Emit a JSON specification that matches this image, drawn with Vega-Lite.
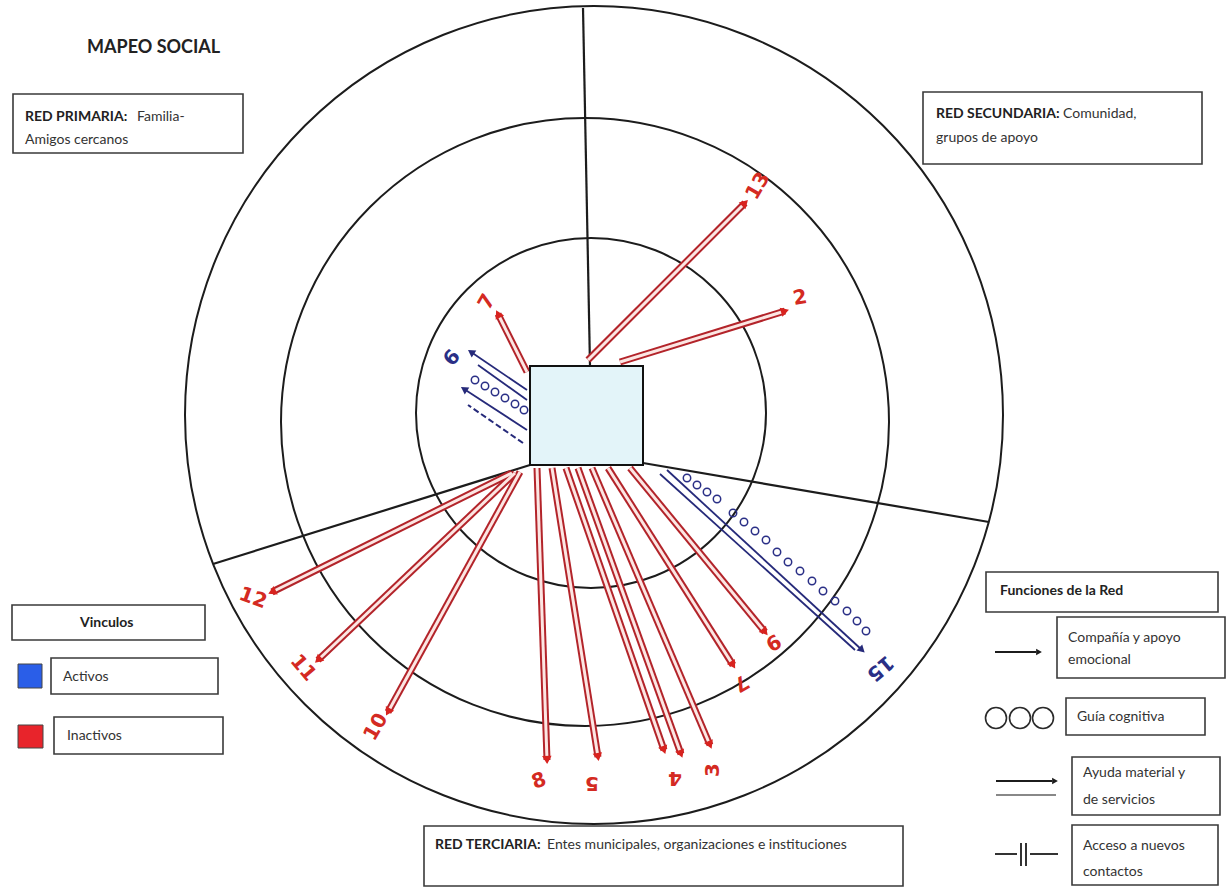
{
  "$schema": "https://vega.github.io/schema/vega-lite/v6.json",
  "width": 1226,
  "height": 888,
  "padding": 0,
  "autosize": {"type": "none"},
  "background": "white",
  "config": {"view": {"stroke": null}},
  "resolve": {"scale": {"color": "independent"}},
  "datasets": {
    "rings": [
      {"x": 594, "y": 415, "d": 818},
      {"x": 585, "y": 422, "d": 608},
      {"x": 591, "y": 413, "d": 350}
    ],
    "sectors": [
      {"x": 583, "y": 8, "x2": 590, "y2": 366},
      {"x": 530, "y": 465, "x2": 213, "y2": 564},
      {"x": 643, "y": 463, "x2": 989, "y2": 522}
    ],
    "redArrows": [
      {"id": "13", "x": 588, "y": 360, "x2": 745, "y2": 203, "ang": 45},
      {"id": "2", "x": 620, "y": 362, "x2": 785, "y2": 311, "ang": 73},
      {"id": "7a", "x": 527, "y": 372, "x2": 498, "y2": 314, "ang": -27},
      {"id": "12", "x": 512, "y": 473, "x2": 272, "y2": 592, "ang": -116},
      {"id": "11", "x": 515, "y": 473, "x2": 318, "y2": 660, "ang": -133},
      {"id": "10", "x": 520, "y": 472, "x2": 388, "y2": 712, "ang": -151},
      {"id": "8", "x": 537, "y": 468, "x2": 547, "y2": 760, "ang": 178},
      {"id": "5", "x": 552, "y": 468, "x2": 598, "y2": 757, "ang": 171},
      {"id": "4a", "x": 566, "y": 468, "x2": 664, "y2": 750, "ang": 161},
      {"id": "4", "x": 578, "y": 468, "x2": 681, "y2": 754, "ang": 160},
      {"id": "3", "x": 592, "y": 468, "x2": 710, "y2": 745, "ang": 157},
      {"id": "7b", "x": 608, "y": 468, "x2": 733, "y2": 665, "ang": 148},
      {"id": "9", "x": 630, "y": 468, "x2": 765, "y2": 632, "ang": 140}
    ],
    "blueLines": [
      {"x": 667, "y": 470, "x2": 862, "y2": 650, "ang": 133, "head": true},
      {"x": 660, "y": 474, "x2": 855, "y2": 650, "ang": 133, "head": false},
      {"x": 527, "y": 390, "x2": 471, "y2": 352, "ang": -56, "head": true},
      {"x": 527, "y": 400, "x2": 478, "y2": 365, "ang": -56, "head": false},
      {"x": 527, "y": 430, "x2": 464, "y2": 389, "ang": -57, "head": true}
    ],
    "blueDashed": [
      {"x": 523, "y": 443, "x2": 468, "y2": 405}
    ],
    "blueCircles": [
      {"x": 687, "y": 478}, {"x": 697, "y": 485}, {"x": 707, "y": 492}, {"x": 717, "y": 499},
      {"x": 733, "y": 513}, {"x": 744, "y": 522}, {"x": 755, "y": 531}, {"x": 766, "y": 540},
      {"x": 777, "y": 552}, {"x": 788, "y": 562}, {"x": 800, "y": 571}, {"x": 812, "y": 581},
      {"x": 823, "y": 591}, {"x": 835, "y": 601}, {"x": 847, "y": 611}, {"x": 857, "y": 621},
      {"x": 866, "y": 631},
      {"x": 475, "y": 380}, {"x": 485, "y": 386}, {"x": 495, "y": 392}, {"x": 505, "y": 398},
      {"x": 515, "y": 404}, {"x": 524, "y": 410}
    ],
    "labels": [
      {"t": "13", "x": 758, "y": 186, "ang": -60, "c": "r"},
      {"t": "2", "x": 800, "y": 298, "ang": -10, "c": "r"},
      {"t": "7", "x": 487, "y": 302, "ang": -60, "c": "r"},
      {"t": "6", "x": 452, "y": 358, "ang": -50, "c": "b"},
      {"t": "12", "x": 253, "y": 598, "ang": 20, "c": "r"},
      {"t": "11", "x": 303, "y": 668, "ang": 50, "c": "r"},
      {"t": "10", "x": 376, "y": 727, "ang": -60, "c": "r"},
      {"t": "8", "x": 539, "y": 781, "ang": -20, "c": "r"},
      {"t": "5", "x": 592, "y": 783, "ang": 180, "c": "r"},
      {"t": "4", "x": 675, "y": 778, "ang": 180, "c": "r"},
      {"t": "3", "x": 713, "y": 770, "ang": -90, "c": "r"},
      {"t": "7", "x": 741, "y": 683, "ang": 150, "c": "r"},
      {"t": "9", "x": 773, "y": 642, "ang": 150, "c": "r"},
      {"t": "15", "x": 880, "y": 668, "ang": 140, "c": "b"}
    ],
    "centerBox": [
      {"x": 530, "y": 366, "x2": 643, "y2": 465}
    ],
    "boxes": [
      {"x": 13, "y": 94, "x2": 243, "y2": 153},
      {"x": 923, "y": 92, "x2": 1202, "y2": 164},
      {"x": 12, "y": 605, "x2": 205, "y2": 640},
      {"x": 51, "y": 658, "x2": 218, "y2": 694},
      {"x": 54, "y": 717, "x2": 223, "y2": 754},
      {"x": 986, "y": 572, "x2": 1218, "y2": 612},
      {"x": 1057, "y": 617, "x2": 1225, "y2": 678},
      {"x": 1066, "y": 698, "x2": 1205, "y2": 735},
      {"x": 1072, "y": 757, "x2": 1220, "y2": 815},
      {"x": 1072, "y": 825, "x2": 1218, "y2": 885},
      {"x": 424, "y": 826, "x2": 903, "y2": 886}
    ],
    "squares": [
      {"x": 18, "y": 664, "x2": 42, "y2": 688, "k": "Activos"},
      {"x": 18, "y": 725, "x2": 43, "y2": 748, "k": "Inactivos"}
    ],
    "legendLines": [
      {"x": 995, "y": 652, "x2": 1036, "y2": 652},
      {"x": 996, "y": 781, "x2": 1052, "y2": 781},
      {"x": 995, "y": 854, "x2": 1017, "y2": 854},
      {"x": 1030, "y": 854, "x2": 1058, "y2": 854},
      {"x": 1021, "y": 843, "x2": 1021, "y2": 866},
      {"x": 1026, "y": 843, "x2": 1026, "y2": 866}
    ],
    "grayLine": [
      {"x": 996, "y": 795, "x2": 1056, "y2": 795}
    ],
    "legendHeads": [
      {"x": 1039, "y": 652, "ang": 90},
      {"x": 1055, "y": 781, "ang": 90}
    ],
    "ooo": [
      {"x": 996, "y": 718}, {"x": 1020, "y": 718}, {"x": 1043, "y": 718}
    ],
    "title": [
      {"t": "MAPEO SOCIAL", "x": 87, "y": 48}
    ],
    "boldText": [
      {"t": "RED PRIMARIA:", "x": 25, "y": 117},
      {"t": "RED SECUNDARIA:", "x": 936, "y": 114},
      {"t": "Vinculos", "x": 80, "y": 623},
      {"t": "Funciones de la Red", "x": 1000, "y": 591},
      {"t": "RED TERCIARIA:", "x": 435, "y": 845}
    ],
    "regText": [
      {"t": "Familia-", "x": 137, "y": 117},
      {"t": "Amigos cercanos", "x": 25, "y": 140},
      {"t": "Comunidad,", "x": 1063, "y": 114},
      {"t": "grupos de apoyo", "x": 936, "y": 138},
      {"t": "Activos", "x": 63, "y": 677},
      {"t": "Inactivos", "x": 67, "y": 736},
      {"t": "Compañía y apoyo", "x": 1068, "y": 638},
      {"t": "emocional", "x": 1068, "y": 660},
      {"t": "Guía cognitiva", "x": 1077, "y": 717},
      {"t": "Ayuda material y", "x": 1083, "y": 773},
      {"t": "de servicios", "x": 1083, "y": 800},
      {"t": "Acceso a nuevos", "x": 1083, "y": 846},
      {"t": "contactos", "x": 1083, "y": 872},
      {"t": "Entes municipales, organizaciones e instituciones", "x": 547, "y": 845}
    ]
  },
  "encoding": {
    "x": {"field": "x", "type": "quantitative", "scale": {"domain": [0, 1226], "nice": false, "zero": false}, "axis": null},
    "y": {"field": "y", "type": "quantitative", "scale": {"domain": [0, 888], "nice": false, "zero": false, "reverse": true}, "axis": null}
  },
  "layer": [
    {
      "data": {"name": "rings"},
      "mark": {"type": "point", "shape": "circle", "filled": false, "color": "#1c1c1c", "strokeWidth": 2, "opacity": 1},
      "encoding": {
        "size": {"field": "d", "type": "quantitative", "scale": {"type": "pow", "exponent": 2, "domain": [0, 1000], "range": [0, 1000000]}, "legend": null}
      }
    },
    {
      "data": {"name": "sectors"},
      "mark": {"type": "rule", "color": "#1c1c1c", "strokeWidth": 2.2},
      "encoding": {"x2": {"field": "x2"}, "y2": {"field": "y2"}}
    },
    {
      "data": {"name": "redArrows"},
      "mark": {"type": "rule", "color": "#b3242a", "strokeWidth": 7},
      "encoding": {"x2": {"field": "x2"}, "y2": {"field": "y2"}}
    },
    {
      "data": {"name": "redArrows"},
      "mark": {"type": "rule", "color": "#fce6e3", "strokeWidth": 3},
      "encoding": {"x2": {"field": "x2"}, "y2": {"field": "y2"}}
    },
    {
      "data": {"name": "redArrows"},
      "mark": {"type": "point", "shape": "triangle-up", "filled": true, "color": "#d8231f", "size": 90, "opacity": 1},
      "encoding": {
        "x": {"field": "x2", "type": "quantitative", "scale": {"domain": [0, 1226], "nice": false, "zero": false}, "axis": null},
        "y": {"field": "y2", "type": "quantitative", "scale": {"domain": [0, 888], "nice": false, "zero": false, "reverse": true}, "axis": null},
        "angle": {"field": "ang", "type": "quantitative", "scale": null}
      }
    },
    {
      "data": {"name": "blueLines"},
      "mark": {"type": "rule", "color": "#262a7a", "strokeWidth": 1.8},
      "encoding": {"x2": {"field": "x2"}, "y2": {"field": "y2"}}
    },
    {
      "data": {"name": "blueDashed"},
      "mark": {"type": "rule", "color": "#262a7a", "strokeWidth": 2, "strokeDash": [6, 3]},
      "encoding": {"x2": {"field": "x2"}, "y2": {"field": "y2"}}
    },
    {
      "data": {"name": "blueLines"},
      "transform": [{"filter": "datum.head"}],
      "mark": {"type": "point", "shape": "triangle-up", "filled": true, "color": "#262a7a", "size": 70, "opacity": 1},
      "encoding": {
        "x": {"field": "x2", "type": "quantitative", "scale": {"domain": [0, 1226], "nice": false, "zero": false}, "axis": null},
        "y": {"field": "y2", "type": "quantitative", "scale": {"domain": [0, 888], "nice": false, "zero": false, "reverse": true}, "axis": null},
        "angle": {"field": "ang", "type": "quantitative", "scale": null}
      }
    },
    {
      "data": {"name": "blueCircles"},
      "mark": {"type": "point", "shape": "circle", "filled": false, "color": "#2a2f86", "strokeWidth": 1.5, "size": 55, "opacity": 1}
    },
    {
      "data": {"name": "centerBox"},
      "mark": {"type": "rect", "fill": "#e3f4f9", "stroke": "#111111", "strokeWidth": 2},
      "encoding": {"x2": {"field": "x2"}, "y2": {"field": "y2"}}
    },
    {
      "data": {"name": "labels"},
      "mark": {"type": "text", "font": "DejaVu Sans", "fontWeight": "bold", "fontSize": 20, "align": "center", "baseline": "middle"},
      "encoding": {
        "text": {"field": "t"},
        "angle": {"field": "ang", "type": "quantitative", "scale": null},
        "color": {"field": "c", "type": "nominal", "scale": {"domain": ["r", "b"], "range": ["#d42a22", "#2a2f86"]}, "legend": null}
      }
    },
    {
      "data": {"name": "boxes"},
      "mark": {"type": "rect", "fill": "white", "stroke": "#3a3a3a", "strokeWidth": 1.6},
      "encoding": {"x2": {"field": "x2"}, "y2": {"field": "y2"}}
    },
    {
      "data": {"name": "squares"},
      "mark": {"type": "rect", "stroke": "#444444", "strokeWidth": 1},
      "encoding": {
        "x2": {"field": "x2"}, "y2": {"field": "y2"},
        "color": {"field": "k", "type": "nominal", "scale": {"domain": ["Activos", "Inactivos"], "range": ["#2a5ee8", "#e8242b"]}, "legend": null}
      }
    },
    {
      "data": {"name": "legendLines"},
      "mark": {"type": "rule", "color": "#1c1c1c", "strokeWidth": 1.8},
      "encoding": {"x2": {"field": "x2"}, "y2": {"field": "y2"}}
    },
    {
      "data": {"name": "grayLine"},
      "mark": {"type": "rule", "color": "#888888", "strokeWidth": 2},
      "encoding": {"x2": {"field": "x2"}, "y2": {"field": "y2"}}
    },
    {
      "data": {"name": "legendHeads"},
      "mark": {"type": "point", "shape": "triangle-up", "filled": true, "color": "#1c1c1c", "size": 45, "opacity": 1},
      "encoding": {"angle": {"field": "ang", "type": "quantitative", "scale": null}}
    },
    {
      "data": {"name": "ooo"},
      "mark": {"type": "point", "shape": "circle", "filled": false, "color": "#2a2a2a", "strokeWidth": 1.6, "size": 441, "opacity": 1}
    },
    {
      "data": {"name": "title"},
      "mark": {"type": "text", "font": "Lato", "fontWeight": "bold", "fontSize": 18, "align": "left", "baseline": "middle", "color": "#222222"},
      "encoding": {"text": {"field": "t"}}
    },
    {
      "data": {"name": "boldText"},
      "mark": {"type": "text", "font": "Lato", "fontWeight": "bold", "fontSize": 14, "align": "left", "baseline": "middle", "color": "#222222"},
      "encoding": {"text": {"field": "t"}}
    },
    {
      "data": {"name": "regText"},
      "mark": {"type": "text", "font": "Lato", "fontSize": 14, "align": "left", "baseline": "middle", "color": "#333333"},
      "encoding": {"text": {"field": "t"}}
    }
  ]
}
